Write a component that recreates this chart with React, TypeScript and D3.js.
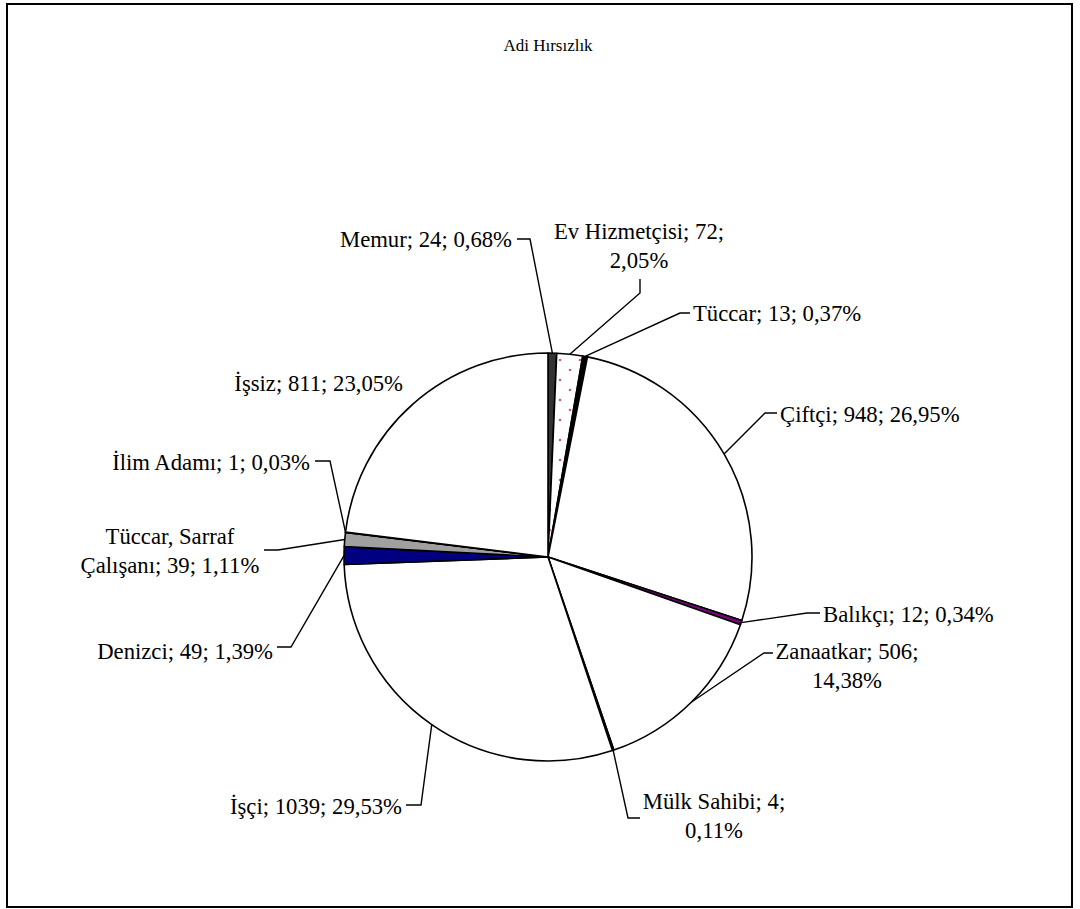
import React, { useEffect, useRef } from "react";
import * as d3 from "d3";

// Adi Hırsızlık - meslek dağılımı
const categories = [
  "Memur",
  "Ev Hizmetçisi",
  "Tüccar",
  "Çiftçi",
  "Balıkçı",
  "Zanaatkar",
  "Mülk Sahibi",
  "İşçi",
  "Denizci",
  "Tüccar, Sarraf Çalışanı",
  "İlim Adamı",
  "İşsiz",
];
const counts = [24, 72, 13, 948, 12, 506, 4, 1039, 49, 39, 1, 811];
const sliceColors = [
  "#333333",
  "url(#dots)",
  "#000000",
  "#ffffff",
  "#800080",
  "#ffffff",
  "#1f6fd0",
  "#ffffff",
  "#000080",
  "#a0a0a0",
  "#ffffff",
  "#ffffff",
];

// label placement (manual, like the original sheet): x, middle y, anchor,
// words on first line (0 = single line), leader elbow points from label toward pie
type LabelPos = {
  x: number;
  y: number;
  anchor: "start" | "middle" | "end";
  wrap: number;
  leader: [number, number][];
};
const labelPos: LabelPos[] = [
  { x: 512, y: 239, anchor: "end", wrap: 0, leader: [[517, 239], [530, 239]] },
  { x: 639, y: 246, anchor: "middle", wrap: 3, leader: [[640, 279], [640, 293]] },
  { x: 693, y: 313, anchor: "start", wrap: 0, leader: [[690, 313], [680, 313]] },
  { x: 780, y: 414, anchor: "start", wrap: 0, leader: [[777, 413], [765, 413]] },
  { x: 823, y: 614, anchor: "start", wrap: 0, leader: [[820, 613], [807, 613]] },
  { x: 847, y: 666, anchor: "middle", wrap: 2, leader: [[773, 653], [764, 653]] },
  { x: 714, y: 816, anchor: "middle", wrap: 3, leader: [[640, 818], [628, 818]] },
  { x: 402, y: 806, anchor: "end", wrap: 0, leader: [[406, 805], [421, 805]] },
  { x: 273, y: 651, anchor: "end", wrap: 0, leader: [[277, 647], [291, 647]] },
  { x: 170, y: 551, anchor: "middle", wrap: 2, leader: [[264, 550], [278, 550]] },
  { x: 310, y: 462, anchor: "end", wrap: 0, leader: [[315, 461], [330, 461]] },
  { x: 403, y: 383, anchor: "end", wrap: 0, leader: [] },
];

const W = 1080;
const H = 909;
const cx = 548;
const cy = 557;
const R = 204;
const FONT = '"Liberation Serif", "Times New Roman", Times, serif';

const App = () => {
  const svgRef = useRef<SVGSVGElement>(null);

  useEffect(() => {
    const svg = d3.select(svgRef.current);
    svg.selectAll("*").remove();

    const defs = svg.append("defs");
    const pat = defs
      .append("pattern")
      .attr("id", "dots")
      .attr("patternUnits", "userSpaceOnUse")
      .attr("width", 20)
      .attr("height", 20);
    pat.append("rect").attr("width", 20).attr("height", 20).attr("fill", "#fff");
    pat.append("circle").attr("cx", 12).attr("cy", 3).attr("r", 1.3).attr("fill", "#c0608a");
    pat.append("circle").attr("cx", 2).attr("cy", 13).attr("r", 1.3).attr("fill", "#c0608a");

    svg
      .append("rect")
      .attr("x", 7)
      .attr("y", 4)
      .attr("width", 1065)
      .attr("height", 903)
      .attr("fill", "#fff")
      .attr("stroke", "#000")
      .attr("stroke-width", 2);

    svg
      .append("text")
      .attr("x", cx)
      .attr("y", 51)
      .attr("text-anchor", "middle")
      .style("font-family", FONT)
      .style("font-size", "17px")
      .text("Adi Hırsızlık");

    const total = d3.sum(counts);
    const fmtPct = (v: number) => d3.format(".2f")((v / total) * 100).replace(".", ",") + "%";

    const pie = d3
      .pie<number>()
      .sort(null)
      .value((d) => d)
      .startAngle(0)
      .endAngle(2 * Math.PI);
    const arcs = pie(counts);
    const arc = d3.arc<d3.PieArcDatum<number>>().innerRadius(0).outerRadius(R);

    const g = svg.append("g").attr("transform", `translate(${cx},${cy})`);
    g.selectAll("path")
      .data(arcs)
      .join("path")
      .attr("d", arc)
      .attr("fill", (_, i) => sliceColors[i])
      .attr("stroke", "#000")
      .attr("stroke-width", 1.6)
      .attr("stroke-linejoin", "round");

    // leader lines
    const line = d3.line();
    arcs.forEach((a, i) => {
      const lp = labelPos[i];
      if (!lp.leader.length) return;
      const mid = (a.startAngle + a.endAngle) / 2;
      const end: [number, number] = [cx + R * Math.sin(mid), cy - R * Math.cos(mid)];
      svg
        .append("path")
        .attr("d", line([...lp.leader, end]))
        .attr("fill", "none")
        .attr("stroke", "#000")
        .attr("stroke-width", 1.4);
    });

    // labels
    const lineGap = 29;
    arcs.forEach((a, i) => {
      const lp = labelPos[i];
      const full = `${categories[i]}; ${counts[i]}; ${fmtPct(counts[i])}`;
      const words = full.split(" ");
      const lines = lp.wrap
        ? [words.slice(0, lp.wrap).join(" "), words.slice(lp.wrap).join(" ")]
        : [full];
      const t = svg
        .append("text")
        .attr("text-anchor", lp.anchor)
        .style("font-family", FONT)
        .style("font-size", "22.7px")
        .attr("fill", "#000");
      const y0 = lp.y - ((lines.length - 1) * lineGap) / 2 + 7.5;
      lines.forEach((s, k) => {
        t.append("tspan").attr("x", lp.x).attr("y", y0 + k * lineGap).text(s);
      });
    });
  }, []);

  return (
    <svg
      ref={svgRef}
      width={W}
      height={H}
      style={{ position: "absolute", left: 0, top: 0, background: "#fff" }}
    ></svg>
  );
};

export default App;
